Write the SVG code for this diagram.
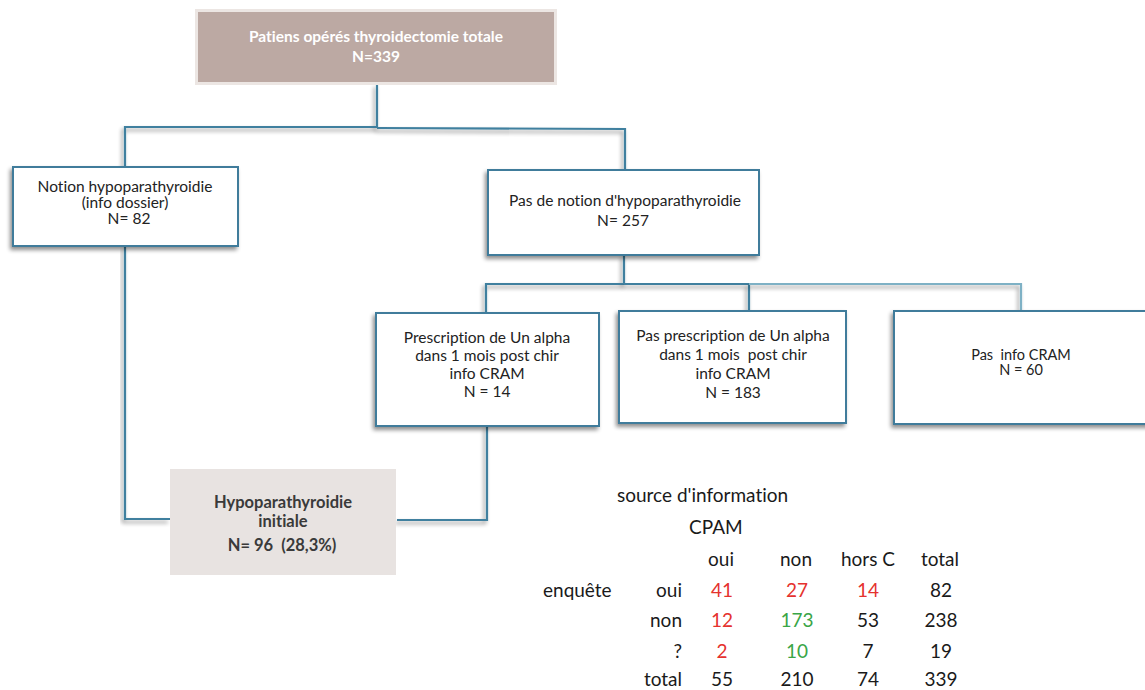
<svg xmlns="http://www.w3.org/2000/svg" width="1145" height="690" viewBox="0 0 1145 690">
<defs>
<filter id="sh" x="-10%" y="-10%" width="130%" height="130%">
<feGaussianBlur in="SourceAlpha" stdDeviation="2"/>
<feOffset dx="-2" dy="3" result="b"/>
<feComponentTransfer><feFuncA type="linear" slope="0.45"/></feComponentTransfer>
<feMerge><feMergeNode/><feMergeNode in="SourceGraphic"/></feMerge>
</filter>
</defs>
<style>
text{font-family:Lato,"Open Sans","Liberation Sans",sans-serif;font-variant-ligatures:none;}
.box{fill:#fff;stroke:#3f7c9b;stroke-width:2;filter:url(#sh);}
.bt{font-size:15.5px;fill:#222;text-anchor:middle;}
.con{fill:none;stroke:#40809f;stroke-width:2.2;filter:url(#sh);}
.conl{fill:none;stroke:#7eb1c5;stroke-width:2.2;filter:url(#sh);}
.t{font-size:19px;fill:#1a1a1a;}
.c{text-anchor:middle;}
.r{text-anchor:end;}
.red{fill:#e5322e;}
.grn{fill:#3aa547;}
</style>
<rect width="1145" height="690" fill="#fff"/>
<g id="connectors">
<polyline class="con" points="377,84 377,127 125,127 125,167"/>
<polyline class="con" points="377,128 625,129 625,170"/>
<polyline class="con" points="624,255 624,284 486,284 486,313"/>
<polyline class="con" points="624,284 749,284 749,311"/>
<polyline class="conl" points="749,284 1021,284 1021,311"/>
<polyline class="con" points="125,246 125,519 170,519"/>
<polyline class="con" points="487,426 487,520 397,520"/>
</g>
<g id="n-total">
<rect x="195" y="9" width="362" height="76" fill="#ece6e3"/>
<rect x="198" y="12" width="356" height="70" fill="#bca9a3"/>
<text class="bt" x="376" y="42" style="fill:#fff;font-weight:bold">Patiens opérés thyroidectomie totale</text>
<text class="bt" x="376" y="62" style="fill:#fff;font-weight:bold">N=339</text>
</g>
<g id="n-notion">
<rect class="box" x="13" y="167" width="225" height="79"/>
<text class="bt" x="125" y="192">Notion hypoparathyroidie</text>
<text class="bt" x="125" y="208">(info dossier)</text>
<text class="bt" x="129" y="224">N= 82</text>
</g>
<g id="n-pasnotion">
<rect class="box" x="488" y="170" width="271" height="85"/>
<text class="bt" x="625" y="206">Pas de notion d'hypoparathyroidie</text>
<text class="bt" x="623" y="226">N= 257</text>
</g>
<g id="n-presc">
<rect class="box" x="376" y="313" width="223" height="113"/>
<text class="bt" x="487" y="343">Prescription de Un alpha</text>
<text class="bt" x="487" y="361">dans 1 mois post chir</text>
<text class="bt" x="487" y="379">info CRAM</text>
<text class="bt" x="487" y="397">N = 14</text>
</g>
<g id="n-pasprsc">
<rect class="box" x="619" y="311" width="227" height="112"/>
<text class="bt" x="733" y="341">Pas prescription de Un alpha</text>
<text class="bt" x="733" y="360" xml:space="preserve">dans 1 mois  post chir</text>
<text class="bt" x="733" y="379">info CRAM</text>
<text class="bt" x="733" y="398">N = 183</text>
</g>
<g id="n-pasinfo">
<rect class="box" x="894" y="311" width="260" height="113"/>
<text class="bt" x="1021" y="360" style="font-size:14.5px" xml:space="preserve">Pas  info CRAM</text>
<text class="bt" x="1021" y="375" style="font-size:14.5px">N = 60</text>
</g>
<g id="n-hypo">
<rect x="170" y="469" width="226" height="106" fill="#e8e3e1"/>
<text class="bt" x="283" y="508" style="font-weight:bold;fill:#3a3a3a;font-size:16.5px">Hypoparathyroidie</text>
<text class="bt" x="283" y="527" style="font-weight:bold;fill:#3a3a3a;font-size:16.5px">initiale</text>
<text class="bt" x="282" y="551" style="font-weight:bold;fill:#3a3a3a;font-size:16.5px" xml:space="preserve">N= 96  (28,3%)</text>
</g>
<g id="table">
<text class="t" x="617" y="502">source d'information</text>
<text class="t" x="689" y="534">CPAM</text>
<text class="t c" x="721" y="566">oui</text>
<text class="t c" x="796" y="566">non</text>
<text class="t c" x="868" y="566">hors C</text>
<text class="t c" x="940" y="566">total</text>
<text class="t" x="543" y="597">enquête</text>
<text class="t r" x="682" y="597">oui</text>
<text class="t r" x="682" y="627">non</text>
<text class="t r" x="682" y="658">?</text>
<text class="t r" x="682" y="686">total</text>
<text class="t c red" x="722" y="597">41</text>
<text class="t c red" x="797" y="597">27</text>
<text class="t c red" x="868" y="597">14</text>
<text class="t c" x="941" y="597">82</text>
<text class="t c red" x="722" y="627">12</text>
<text class="t c grn" x="797" y="627">173</text>
<text class="t c" x="868" y="627">53</text>
<text class="t c" x="941" y="627">238</text>
<text class="t c red" x="722" y="658">2</text>
<text class="t c grn" x="797" y="658">10</text>
<text class="t c" x="868" y="658">7</text>
<text class="t c" x="941" y="658">19</text>
<text class="t c" x="722" y="686">55</text>
<text class="t c" x="797" y="686">210</text>
<text class="t c" x="868" y="686">74</text>
<text class="t c" x="941" y="686">339</text>
</g>
</svg>
